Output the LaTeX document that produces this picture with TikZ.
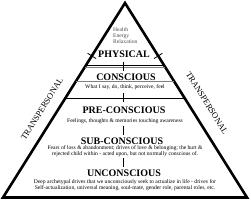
\documentclass[tikz,border=0pt]{standalone}
\usepackage{fontspec}
\setmainfont{Liberation Serif}
\usetikzlibrary{calc}

\begin{document}
\begin{tikzpicture}[x=1pt,y=-1pt,
  head/.style={font=\fontsize{10}{10}\selectfont\bfseries,inner sep=0pt},
  note/.style={font=\fontsize{5.6}{6.2}\selectfont,align=center,inner sep=0pt},
  side/.style={font=\fontsize{8.5}{9}\selectfont,inner sep=0pt},
  divider/.style={line width=0.9pt},
  tick/.style={line width=0.8pt}]
\useasboundingbox (0,0) rectangle (251,200);
\coordinate (top) at (125,3);
\coordinate (bl) at (3,197.5);
\coordinate (br) at (247,197.5);
\draw[line width=2.6pt,line join=miter] (top) -- (bl) -- (br) -- cycle;
% level lines with centre ticks
\foreach \y/\n/\c in {67/a/gray,98/b/black,131/c/black,163/d/gray}{
  \pgfmathsetmacro\t{(\y-3)/194.5}
  \draw[divider,draw=\c] ($(top)!\t!(bl)$) coordinate (\n l) -- ($(top)!\t!(br)$) coordinate (\n r);
  \coordinate (\n m) at (123,\y);
  \draw[tick] ($(\n m)+(0,-5)$) -- ($(\n m)+(0,4)$);
}
% side ticks
\coordinate (lt) at ($(top)!0.557!(bl)$);
\coordinate (rt) at ($(top)!0.557!(br)$);
\draw[tick] ($(lt)!5pt!90:(top)$) -- ($(lt)!5pt!-90:(top)$);
\draw[tick] ($(rt)!5pt!90:(top)$) -- ($(rt)!5pt!-90:(top)$);
% texts
\node[note,align=left,anchor=north west,text=black!70] (hlth) at (113,27) {Health\\Energy\\Relaxation};
\node[head] (phys) at (124,54) {PHYSICAL};
\node[head] (cons) at (126,77) {CONSCIOUS};
\node[note] (consn) at (125,87) {What I say, do, think, perceive, feel};
\node[head] (pre) at (124,110) {PRE-CONSCIOUS};
\node[note] (pren) at (125,121) {Feelings, thoughts \& memories touching awareness};
\node[head] (sub) at (122,141) {SUB-CONSCIOUS};
\node[note] (subn) at (125,151) {Fears of loss \& abandonment; drives of love \& belonging; the hurt \&\\rejected child within - acted upon, but not normally conscious of.};
\node[head] (unc) at (124,173) {UNCONSCIOUS};
\node[note] (uncn) at (125,185.5) {Deep archetypal drives that we unconsciously seek to actualize in life - drives for\\Self-actualization, universal meaning, soul-mate, gender role, parental roles, etc.};
\node[side,rotate=58] (tpl) at (42,109) {TRANSPERSONAL};
\node[side,rotate=-58] (tpr) at (207,103) {TRANSPERSONAL};
\end{tikzpicture}
\end{document}
